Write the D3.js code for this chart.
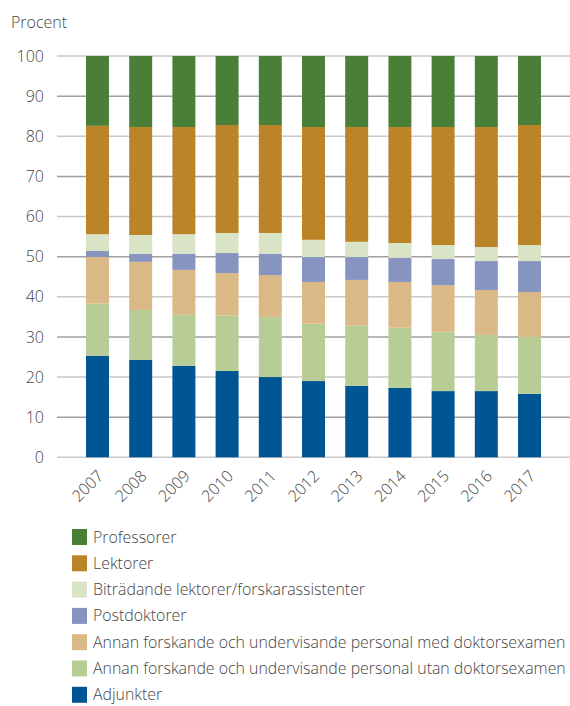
<!DOCTYPE html>
<html><head><meta charset="utf-8">
<script src="https://cdn.jsdelivr.net/npm/d3@7"></script>
<style>
body{margin:0;background:#fff;}
text{font-family:"Open Sans", Lato, sans-serif;font-weight:300;fill:#444;}
.xl{opacity:0.99;}
</style></head>
<body><svg id="c" width="570" height="706"></svg>
<script>
const years = ["2007","2008","2009","2010","2011","2012","2013","2014","2015","2016","2017"];
const seriesNames = ["Adjunkter","Annan forskande och undervisande personal utan doktorsexamen","Annan forskande och undervisande personal med doktorsexamen","Postdoktorer","Biträdande lektorer/forskarassistenter","Lektorer","Professorer"];
const adjunkter = [25.3,24.3,22.8,21.5,20.0,19.0,17.8,17.3,16.5,16.5,15.8];
const utan      = [13.0,12.4,12.7,13.8,15.0,14.3,15.0,15.0,14.8,14.0,14.2];
const med       = [11.6,12.0,11.2,10.6,10.4,10.4,11.4,11.4,11.6,11.2,11.2];
const postdok   = [1.5,2.0,4.0,5.0,5.3,6.2,5.7,6.0,6.5,7.2,7.7];
const bitr      = [4.2,4.7,4.9,5.0,5.2,4.3,3.8,3.7,3.5,3.5,4.0];
const lektorer  = [27.0,26.9,26.7,26.9,26.9,28.1,28.6,28.9,29.4,29.9,29.9];
const professorer = [17.4,17.7,17.7,17.2,17.2,17.7,17.7,17.7,17.7,17.7,17.2];
const yTicks = [0,10,20,30,40,50,60,70,80,90,100];
const colors = ["#005595","#b7cd95","#dab986","#8794bf","#d9e3c5","#bc8428","#4a7f37"];
const legendOrder = [6,5,4,3,2,1,0];

const allSeries = [adjunkter,utan,med,postdok,bitr,lektorer,professorer];
const rows = years.map((y,i)=>{const r={year:y}; seriesNames.forEach((n,k)=>r[n]=allSeries[k][i]); return r;});
const stacked = d3.stack().keys(seriesNames)(rows);

const svg = d3.select("#c");
const x = d3.scaleBand().domain(years).range([57,570]).paddingInner(0.468).paddingOuter(0.671);
const y = d3.scaleLinear().domain([0,100]).range([457.3,56]);

// gridlines
svg.append("g").selectAll("line").data(yTicks).join("line")
  .attr("x1",57).attr("x2",570).attr("y1",d=>y(d)).attr("y2",d=>y(d))
  .attr("stroke",d=>d%20===0?"#c8c8c8":"#a0a0a0").attr("stroke-width",1.5);

// y labels
svg.append("g").selectAll("text").data(yTicks).join("text")
  .attr("x",44).attr("y",d=>y(d)).attr("dy","0.35em").attr("text-anchor","end")
  .attr("font-size",16).text(d=>d);

svg.append("text").attr("x",11).attr("y",28).attr("font-size",16).text("Procent");

// bars
svg.append("g").selectAll("g").data(stacked).join("g")
  .attr("fill",(d,i)=>colors[i])
  .selectAll("rect").data(d=>d).join("rect")
  .attr("x",d=>x(d.data.year)).attr("width",x.bandwidth())
  .attr("y",d=>y(d[1])).attr("height",d=>y(d[0])-y(d[1]));

// x labels
svg.append("g").attr("class","xl").selectAll("text").data(years).join("text")
  .attr("transform",d=>`translate(${x(d)+x.bandwidth()/2+7},${477}) rotate(-45)`)
  .attr("text-anchor","end").attr("font-size",16).attr("fill","#444").text(d=>d);

// legend
const lg = svg.append("g").selectAll("g").data(legendOrder).join("g")
  .attr("transform",(d,i)=>`translate(72,${529+i*26.3})`);
lg.append("rect").attr("width",15).attr("height",16).attr("fill",d=>colors[d]);
lg.append("text").attr("x",21).attr("y",8).attr("dy","0.35em").attr("font-size",15.9).text(d=>seriesNames[d]);
</script></body></html>
